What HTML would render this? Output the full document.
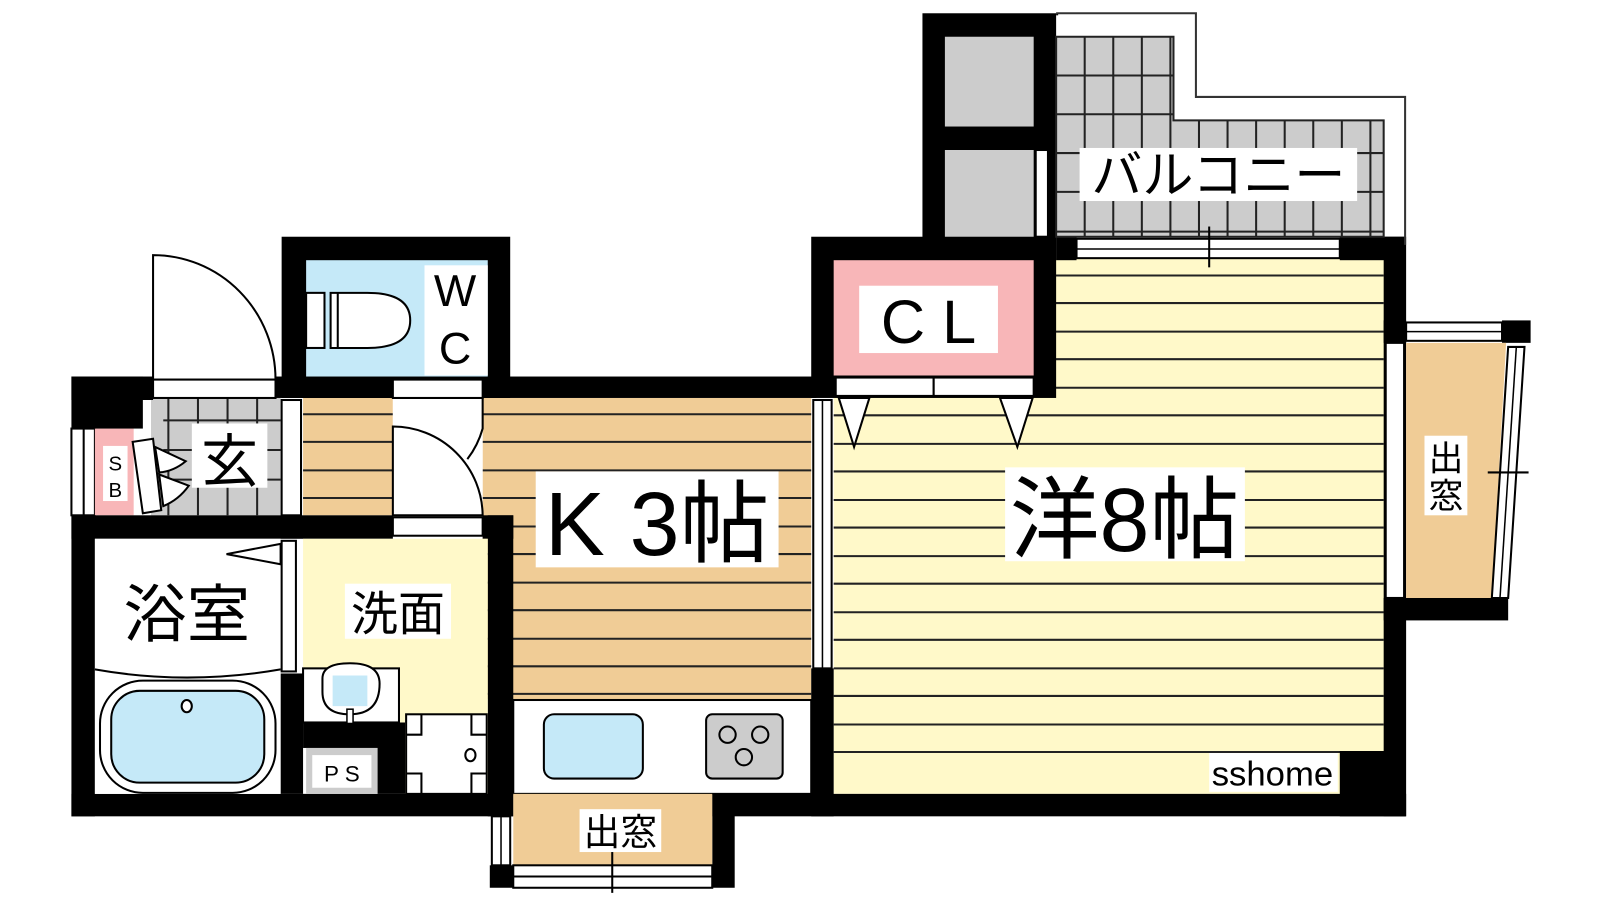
<!DOCTYPE html>
<html><head><meta charset="utf-8"><style>
html,body{margin:0;padding:0;background:#fff;}
svg{display:block}
text{font-family:"Liberation Sans","Noto Sans CJK JP",sans-serif;fill:#000}
</style></head><body>
<svg width="1600" height="900" viewBox="0 0 1568 882" preserveAspectRatio="none" xmlns="http://www.w3.org/2000/svg">
<rect width="1568" height="882" fill="#fff"/>
<!-- Main room -->
<rect x="817" y="253" width="540" height="525" fill="#fff9c9"/>
<g stroke="#222" stroke-width="2">
<line x1="817" y1="270" x2="1356" y2="270"/><line x1="817" y1="297" x2="1356" y2="297"/>
<line x1="817" y1="325" x2="1356" y2="325"/><line x1="817" y1="352" x2="1356" y2="352"/>
<line x1="817" y1="380" x2="1356" y2="380"/><line x1="817" y1="407" x2="1356" y2="407"/>
<line x1="817" y1="435" x2="1356" y2="435"/><line x1="817" y1="462" x2="1356" y2="462"/>
<line x1="817" y1="490" x2="1356" y2="490"/><line x1="817" y1="517" x2="1356" y2="517"/>
<line x1="817" y1="545" x2="1356" y2="545"/><line x1="817" y1="572" x2="1356" y2="572"/>
<line x1="817" y1="600" x2="1356" y2="600"/><line x1="817" y1="627" x2="1356" y2="627"/>
<line x1="817" y1="655" x2="1356" y2="655"/><line x1="817" y1="682" x2="1356" y2="682"/>
<line x1="817" y1="710" x2="1356" y2="710"/><line x1="817" y1="737" x2="1356" y2="737"/>
</g>
<!-- K area -->
<rect x="473" y="390" width="322" height="295" fill="#f0cc96"/>
<rect x="297" y="390" width="88" height="115" fill="#f0cc96"/>
<g stroke="#222" stroke-width="2">
<line x1="297" y1="406" x2="385" y2="406"/><line x1="297" y1="433" x2="385" y2="433"/><line x1="297" y1="461" x2="385" y2="461"/><line x1="297" y1="488" x2="385" y2="488"/>
<line x1="473" y1="406" x2="795" y2="406"/><line x1="473" y1="433" x2="795" y2="433"/><line x1="473" y1="461" x2="795" y2="461"/>
<line x1="473" y1="488" x2="795" y2="488"/><line x1="473" y1="516" x2="795" y2="516"/><line x1="473" y1="543" x2="795" y2="543"/>
<line x1="473" y1="571" x2="795" y2="571"/><line x1="473" y1="598" x2="795" y2="598"/><line x1="473" y1="626" x2="795" y2="626"/>
<line x1="473" y1="653" x2="795" y2="653"/><line x1="473" y1="680" x2="795" y2="680"/>
</g>
<!-- door into K -->
<rect x="385" y="390" width="88" height="115" fill="#fff"/>
<path d="M385,418 A88,88 0 0 1 473,505 L385,505 Z" fill="#fff" stroke="#000" stroke-width="2"/>
<path d="M385,390 L473,390 L473,420 A88,88 0 0 1 458,450" fill="none" stroke="#000" stroke-width="2"/>
<!-- entry grey -->
<rect x="148" y="390" width="127" height="115" fill="#ccc"/>
<g stroke="#222" stroke-width="2">
<line x1="160" y1="412" x2="275" y2="412"/><line x1="160" y1="441" x2="275" y2="441"/><line x1="160" y1="470" x2="275" y2="470"/>
<line x1="165" y1="390" x2="165" y2="505"/><line x1="194" y1="390" x2="194" y2="505"/><line x1="223" y1="390" x2="223" y2="505"/><line x1="252" y1="390" x2="252" y2="505"/>
</g>
<!-- SB -->
<rect x="70" y="420" width="23" height="85" fill="#fff" stroke="#000" stroke-width="2"/>
<line x1="82" y1="420" x2="82" y2="505" stroke="#000" stroke-width="2"/>
<rect x="93" y="420" width="38" height="85" fill="#f8b6b8"/>
<rect x="101" y="437" width="24" height="54" fill="#fff"/>
<text x="113" y="461" font-size="20" text-anchor="middle">S</text>
<text x="113" y="487" font-size="20" text-anchor="middle">B</text>
<polygon points="130,433 150,430 158,500 140,503" fill="#fff" stroke="#000" stroke-width="2"/>
<path d="M152,438 L182,452 Q170,462 156,463 Z M156,465 L185,476 Q175,490 160,496 Z" fill="#fff" stroke="#000" stroke-width="2"/>
<!-- entry door -->
<path d="M150,250 L150,372 L270,372 A120,122 0 0 0 150,250 Z" fill="#fff" stroke="#000" stroke-width="2"/>
<rect x="150" y="372" width="120" height="18" fill="#fff" stroke="#000" stroke-width="2"/>
<!-- walls -->
<g fill="#000">
<rect x="70" y="369" width="80" height="23"/>
<rect x="70" y="369" width="70" height="51"/>
<rect x="270" y="369" width="115" height="21"/>
<rect x="473" y="369" width="327" height="21"/>
<rect x="276" y="232" width="224" height="158"/>
<rect x="70" y="505" width="315" height="23"/>
<rect x="473" y="505" width="30" height="23"/>
<rect x="70" y="505" width="23" height="295"/>
<rect x="478" y="505" width="25" height="295"/>
<rect x="70" y="778" width="433" height="22"/>
<rect x="275" y="660" width="22" height="118"/>
<rect x="297" y="708" width="100" height="25"/>
<rect x="370" y="708" width="27" height="70"/>
<rect x="795" y="655" width="22" height="145"/>
<rect x="698" y="778" width="680" height="22"/>
<rect x="698" y="778" width="22" height="92"/>
<rect x="480" y="848" width="23" height="22"/>
<rect x="795" y="232" width="240" height="158"/>
<rect x="904" y="13" width="131" height="242"/>
<rect x="1035" y="232" width="20" height="23"/>
<rect x="1313" y="232" width="64" height="23"/>
<rect x="1356" y="232" width="22" height="568"/>
<rect x="1313" y="736" width="64" height="64"/>
<rect x="1356" y="314" width="22" height="22"/>
<rect x="1356" y="586" width="122" height="22"/>
<rect x="1472" y="314" width="28" height="22"/>
</g>
<rect x="276" y="392" width="19" height="113" fill="#fff" stroke="#000" stroke-width="2"/>
<!-- WC -->
<rect x="300" y="255" width="178" height="114" fill="#c5e9f8"/>
<rect x="416" y="260" width="62" height="108" fill="#fff"/>
<text x="446" y="300" font-size="44" text-anchor="middle">W</text>
<text x="446" y="356" font-size="44" text-anchor="middle">C</text>
<rect x="300" y="287" width="18" height="54" fill="#fff" stroke="#000" stroke-width="2"/>
<path d="M324,287 L360,287 Q402,287 402,314 Q402,341 360,341 L324,341 Z" fill="#fff" stroke="#000" stroke-width="2"/>
<line x1="331" y1="287" x2="331" y2="341" stroke="#000" stroke-width="2"/>
<rect x="385" y="372" width="88" height="18" fill="#fff" stroke="#000" stroke-width="2"/>
<rect x="385" y="507" width="88" height="18" fill="#fff" stroke="#000" stroke-width="2"/>
<!-- bath -->
<rect x="93" y="528" width="182" height="250" fill="#fff"/>
<rect x="276" y="530" width="14" height="128" fill="#fff" stroke="#000" stroke-width="2"/>
<polygon points="222,543 275,533 275,553" fill="#fff" stroke="#000" stroke-width="2"/>
<path d="M93,656 Q183,672 275,656" fill="none" stroke="#000" stroke-width="2"/>
<rect x="98" y="667" width="172" height="110" rx="42" fill="#fff" stroke="#000" stroke-width="2"/>
<rect x="109" y="677" width="150" height="90" rx="28" fill="#c5e9f8" stroke="#000" stroke-width="2"/>
<ellipse cx="183" cy="692" rx="5" ry="6" fill="#fff" stroke="#000" stroke-width="2"/>
<text x="183" y="624" font-size="62" text-anchor="middle">浴室</text>
<!-- washroom -->
<rect x="297" y="528" width="181" height="180" fill="#fff9c9"/>
<rect x="397" y="708" width="81" height="70" fill="#fff9c9"/>
<rect x="338" y="572" width="104" height="54" fill="#fff"/>
<text x="390" y="618" font-size="46" text-anchor="middle">洗面</text>
<rect x="297" y="655" width="94" height="53" fill="#fff" stroke="#000" stroke-width="2"/>
<path d="M316,665 Q316,650 343,650 Q372,650 372,670 Q372,700 343,700 Q316,700 316,678 Z" fill="#fff" stroke="#000" stroke-width="2"/>
<rect x="326" y="662" width="34" height="30" fill="#c5e9f8"/>
<rect x="340" y="695" width="6" height="14" fill="#fff" stroke="#000" stroke-width="1.5"/>
<rect x="398" y="700" width="79" height="78" fill="#fff" stroke="#000" stroke-width="2"/>
<path d="M398,720 L413,720 L413,700 M462,700 L462,720 L477,720 M398,758 L413,758 L413,778 M462,778 L462,758 L477,758" fill="none" stroke="#000" stroke-width="2"/>
<ellipse cx="461" cy="740" rx="5" ry="6" fill="#fff" stroke="#000" stroke-width="2"/>
<rect x="300" y="733" width="70" height="45" fill="#ccc"/>
<rect x="306" y="740" width="58" height="32" fill="#fff"/>
<text x="335" y="766" font-size="22" text-anchor="middle">P S</text>
<!-- kitchen counter -->
<rect x="503" y="686" width="292" height="92" fill="#fff" stroke="#000" stroke-width="2"/>
<rect x="533" y="700" width="97" height="63" rx="10" fill="#c5e9f8" stroke="#000" stroke-width="2"/>
<rect x="692" y="700" width="75" height="63" rx="6" fill="#ccc" stroke="#000" stroke-width="2"/>
<g fill="none" stroke="#000" stroke-width="2">
<circle cx="713" cy="720" r="8"/><circle cx="745" cy="720" r="8"/><circle cx="729" cy="742" r="8"/>
</g>
<!-- K/main sliding -->
<rect x="797" y="392" width="18" height="263" fill="#fff" stroke="#000" stroke-width="2"/>
<line x1="806" y1="392" x2="806" y2="655" stroke="#000" stroke-width="1.5"/>
<!-- bottom bay -->
<rect x="503" y="778" width="195" height="70" fill="#f0cc96"/>
<rect x="503" y="848" width="195" height="22" fill="#fff" stroke="#000" stroke-width="2"/>
<line x1="503" y1="859" x2="698" y2="859" stroke="#000" stroke-width="2"/>
<line x1="600" y1="830" x2="600" y2="875" stroke="#000" stroke-width="2"/>
<rect x="482" y="800" width="18" height="48" fill="#fff" stroke="#000" stroke-width="2"/>
<line x1="491" y1="800" x2="491" y2="848" stroke="#000" stroke-width="1.5"/>
<rect x="568" y="793" width="80" height="42" fill="#fff"/>
<text x="608" y="828" font-size="36" text-anchor="middle">出窓</text>
<!-- CL -->
<rect x="817" y="255" width="196" height="113" fill="#f8b6b8"/>
<rect x="842" y="280" width="136" height="66" fill="#fff"/>
<text x="910" y="336" font-size="60" text-anchor="middle">C L</text>
<rect x="819" y="370" width="96" height="18" fill="#fff" stroke="#000" stroke-width="2"/>
<rect x="915" y="370" width="98" height="18" fill="#fff" stroke="#000" stroke-width="2"/>
<polygon points="822,390 852,390 837,438" fill="#fff" stroke="#000" stroke-width="2"/>
<polygon points="980,390 1012,390 997,438" fill="#fff" stroke="#000" stroke-width="2"/>
<!-- balcony -->
<rect x="926" y="36" width="87" height="88" fill="#ccc"/>
<rect x="926" y="147" width="87" height="85" fill="#ccc"/>
<rect x="1035" y="13" width="2" height="2" fill="#000"/>
<path d="M1035,13 L1172,13 L1172,95 L1377,95 L1377,240" fill="none" stroke="#333" stroke-width="2"/>
<path d="M1035,36 L1150,36 L1150,118 L1356,118 L1356,232 L1035,232 Z" fill="#ccc" stroke="#222" stroke-width="2"/>
<g stroke="#222" stroke-width="2">
<line x1="1035" y1="74" x2="1150" y2="74"/><line x1="1035" y1="112" x2="1150" y2="112"/>
<line x1="1035" y1="150" x2="1356" y2="150"/><line x1="1035" y1="188" x2="1356" y2="188"/><line x1="1035" y1="227" x2="1356" y2="227"/>
<line x1="1063" y1="36" x2="1063" y2="232"/><line x1="1091" y1="36" x2="1091" y2="232"/><line x1="1119" y1="36" x2="1119" y2="232"/><line x1="1147" y1="36" x2="1147" y2="232"/>
<line x1="1175" y1="118" x2="1175" y2="232"/><line x1="1203" y1="118" x2="1203" y2="232"/><line x1="1231" y1="118" x2="1231" y2="232"/>
<line x1="1259" y1="118" x2="1259" y2="232"/><line x1="1287" y1="118" x2="1287" y2="232"/><line x1="1315" y1="118" x2="1315" y2="232"/><line x1="1343" y1="118" x2="1343" y2="232"/>
</g>
<rect x="1015" y="147" width="12" height="85" fill="#fff" stroke="#000" stroke-width="2"/>
<rect x="1058" y="145" width="272" height="52" fill="#fff"/>
<text x="1194" y="189" font-size="50" text-anchor="middle">バルコニー</text>
<rect x="1055" y="234" width="258" height="19" fill="#fff" stroke="#000" stroke-width="2"/>
<line x1="1055" y1="244" x2="1313" y2="244" stroke="#000" stroke-width="1.5"/>
<line x1="1185" y1="222" x2="1185" y2="262" stroke="#000" stroke-width="2"/>
<!-- right bay -->
<polygon points="1378,336 1476,336 1462,586 1378,586" fill="#f0cc96"/>
<rect x="1358" y="336" width="18" height="250" fill="#fff" stroke="#000" stroke-width="2"/>
<rect x="1378" y="316" width="94" height="18" fill="#fff" stroke="#000" stroke-width="2"/>
<line x1="1378" y1="325" x2="1472" y2="325" stroke="#000" stroke-width="1.5"/>
<polygon points="1478,340 1494,340 1478,586 1462,586" fill="#fff" stroke="#000" stroke-width="2"/>
<line x1="1486" y1="340" x2="1470" y2="586" stroke="#000" stroke-width="1.5"/>
<line x1="1458" y1="463" x2="1498" y2="463" stroke="#000" stroke-width="2"/>
<rect x="1396" y="427" width="42" height="78" fill="#fff"/>
<text x="1417" y="461" font-size="34" text-anchor="middle">出</text>
<text x="1417" y="498" font-size="34" text-anchor="middle">窓</text>
<!-- labels -->
<rect x="188" y="415" width="74" height="63" fill="#fff"/>
<text x="225" y="472" font-size="56" text-anchor="middle">玄</text>
<rect x="525" y="462" width="238" height="94" fill="#fff"/>
<text x="644" y="544" font-size="88" text-anchor="middle">K 3帖</text>
<rect x="985" y="458" width="235" height="92" fill="#fff"/>
<text x="1102" y="540" font-size="88" text-anchor="middle">洋8帖</text>
<rect x="1185" y="738" width="126" height="38" fill="#fff"/>
<text x="1247" y="770" font-size="34" text-anchor="middle">sshome</text>
</svg>
</body></html>
